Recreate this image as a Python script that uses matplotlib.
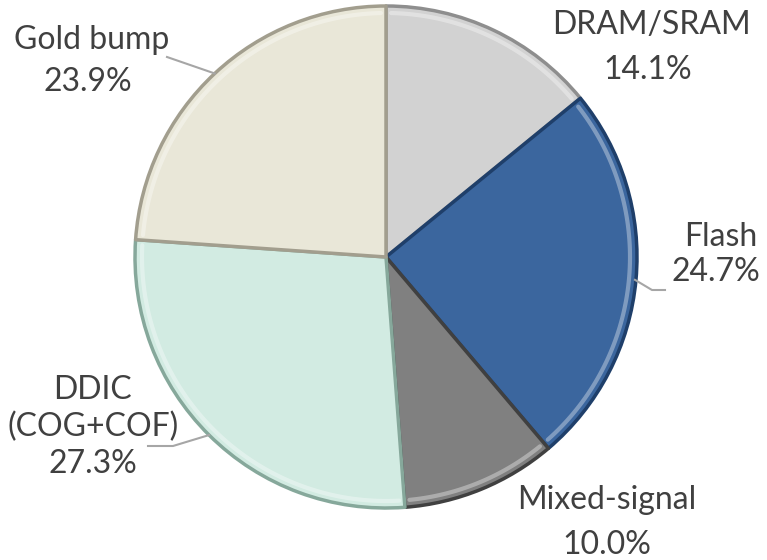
import matplotlib.pyplot as plt
import numpy as np

# segment data (clockwise from 12 o'clock)
labels = ['DRAM/SRAM', 'Flash', 'Mixed-signal', 'DDIC\n(COG+COF)', 'Gold bump']
shares = [14.1, 24.7, 10.0, 27.3, 23.9]
colors = ['#d2d2d2', '#3b669e', '#808080', '#d2ebe2', '#e9e7d8']
edge_colors = ['#8e8e8e', '#1f3f6a', '#404040', '#86a89b', '#a29e8e']

W, H = 767, 560
cx, cy, r = 386, H - 257, 251

fig = plt.figure(figsize=(W / 100, H / 100), dpi=100)
ax = fig.add_axes([0, 0, 1, 1])

wedges, _ = ax.pie(shares, colors=colors, startangle=90, counterclock=False,
                   center=(cx, cy), radius=r, frame=True,
                   wedgeprops=dict(linewidth=0))

# bevel-ish look: dark outline plus a lighter inner rim
for w, ec in zip(wedges, edge_colors):
    w.set_edgecolor(ec)
    w.set_linewidth(2.5)
    w.set_joinstyle('round')
for w in wedges:
    th = np.radians(np.linspace(w.theta1 + 1.2, w.theta2 - 1.2, 80))
    ax.plot(cx + (r - 7) * np.cos(th), cy + (r - 7) * np.sin(th),
            color='white', alpha=0.35, lw=3, solid_capstyle='round')

ax.set_xlim(0, W)
ax.set_ylim(0, H)
ax.set_aspect('equal')
ax.axis('off')

txt = dict(fontsize=23, color='#404040', family='Lato', ha='center', va='center',
           linespacing=1.3)

def rim(i):
    w = wedges[i]
    a = np.radians((w.theta1 + w.theta2) / 2)
    return cx + r * np.cos(a), cy + r * np.sin(a)

# labels
ax.text(651, H - 25, labels[0], **txt)
ax.text(648, H - 70, f'{shares[0]:.1f}%', **txt)

ax.text(757, H - 237, labels[1], **{**txt, 'ha': 'right'})
ax.text(760, H - 272, f'{shares[1]:.1f}%', **{**txt, 'ha': 'right'})

ax.text(607, H - 500, labels[2], **txt)
ax.text(607, H - 545, f'{shares[2]:.1f}%', **txt)

ax.text(93, H - 427, labels[3] + f'\n{shares[3]:.1f}%', **txt)

ax.text(92, H - 40, labels[4], **txt)
ax.text(88, H - 82, f'{shares[4]:.1f}%', **txt)

# leader lines
line = dict(color='#a6a6a6', lw=1.5)
x, y = rim(4)
ax.plot([x, 167], [y, H - 57], **line)
x, y = rim(1)
ax.plot([x - 1, 652, 665], [y, H - 290, H - 290], **line)
x, y = rim(3)
ax.plot([x, 173, 148], [y, H - 446, H - 446], **line)

fig.savefig('out.png', dpi=100, facecolor='white')
